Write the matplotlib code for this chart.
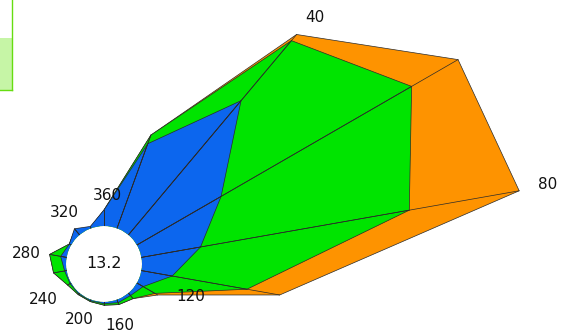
import numpy as np
import matplotlib
matplotlib.use("Agg")
import matplotlib.pyplot as plt
from matplotlib.patches import Rectangle
from matplotlib.lines import Line2D

# ---------------- data ----------------
angles_deg = [20, 40, 60, 80, 100, 120, 140, 160, 180,
              200, 220, 240, 260, 280, 300, 320, 340, 360]
tick_labels = ["40", "80", "120", "160", "200", "240", "280", "320", "360"]
center_value = "13.2"

orange_vals = [24.8, 65.4, 92.7, 95.9, 35.1, 6.0, 1.8, 1.3, 0.8,
               0.5, 0.5, 1.0, 3.3, 4.3, 0.5, 1.8, 0.3, 4.0]
green_vals = [24.8, 63.4, 79.3, 68.0, 26.8, 5.2, 1.8, 1.3, 0.8,
              0.5, 0.5, 1.0, 3.3, 4.3, 0.5, 1.8, 0.3, 4.0]
blue_vals = [22.5, 43.8, 24.3, 15.0, 7.8, 1.8, 0.8, 0.8, 0.4,
             0.3, 0.3, 0.3, 0.5, 1.5, 0.5, 2.0, 0.5, 4.0]

# ---------------- layout ----------------
W, H = 561, 334
cx, cy = 104, 264          # centre of the hole (pixels from top-left)
hole_px = 38
px_per_unit = 4.0
rmax = 110
rorigin = -hole_px / px_per_unit
R = (rmax - rorigin) * px_per_unit

# label positions (theta deg, r) for the angle labels
label_theta = [40.6, 79.8, 110.2, 165.5, 204.4, 239.5, 277.3, 322.4, 2.5]
label_r = [71.6, 103.3, 13.7, 6.5, 5.6, 8.2, 10.2, 6.9, 7.75]

colors = {"orange": "#fe9300", "green": "#00e400", "blue": "#0c66ee"}
edge = "#2a2a2a"

fig = plt.figure(figsize=(W / 100, H / 100), dpi=100)
left = (cx - R) / W
bottom = ((H - cy) - R) / H
ax = fig.add_axes([left, bottom, 2 * R / W, 2 * R / H], projection="polar")
ax.set_theta_zero_location("N")
ax.set_theta_direction(-1)
ax.set_ylim(0, rmax)
ax.set_rorigin(rorigin)
ax.axis("off")

theta = np.deg2rad(angles_deg)
theta_c = np.append(theta, theta[0])

for name, vals in [("orange", orange_vals), ("green", green_vals), ("blue", blue_vals)]:
    v = np.array(vals)
    ax.fill(theta_c, np.append(v, v[0]), facecolor=colors[name],
            edgecolor=edge, linewidth=0.5)
    for t, r in zip(theta, v):
        ax.plot([t, t], [rorigin * 0.5, r], color=edge, linewidth=0.5)

for lab, t, r in zip(tick_labels, label_theta, label_r):
    ax.text(np.deg2rad(t), r, lab, ha="center", va="center",
            fontsize=11, color="#111111", family="DejaVu Sans")

ax.text(0.5, 0.5, center_value, transform=ax.transAxes, ha="center",
        va="center", fontsize=11.5, color="#111111", family="DejaVu Sans")

# partially visible legend box at top-left
fig.add_artist(Rectangle((0, (H - 89.5) / H), 12 / W, (89.5 - 38) / H,
                         transform=fig.transFigure, facecolor="#c6f5a6",
                         edgecolor="none"))
fig.add_artist(Line2D([12 / W, 12 / W], [1.0, (H - 89.5) / H],
                      transform=fig.transFigure, color="#66dd11", linewidth=1.0))
fig.add_artist(Line2D([0, 12 / W], [(H - 89.5) / H, (H - 89.5) / H],
                      transform=fig.transFigure, color="#66dd11", linewidth=1.0))

fig.savefig("out.png", dpi=100, facecolor="white")
